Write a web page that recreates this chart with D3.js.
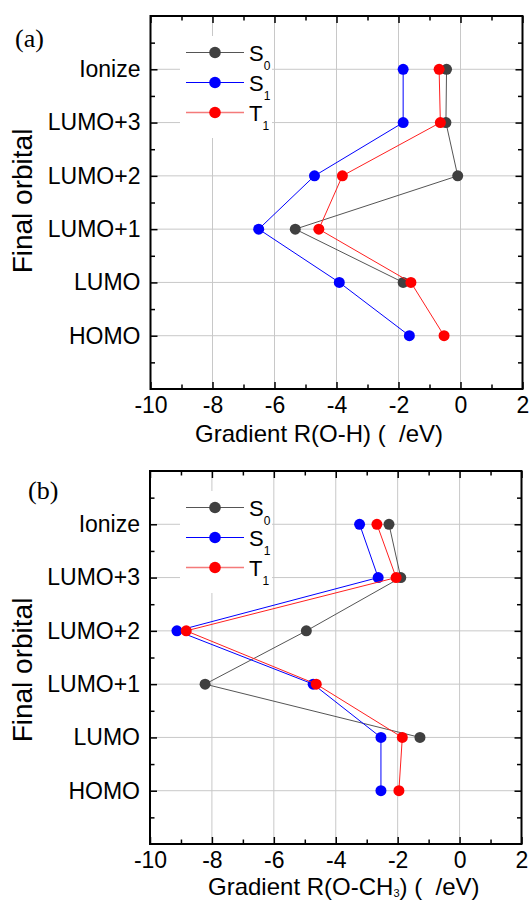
<!DOCTYPE html>
<html>
<head>
<meta charset="utf-8">
<script src="https://cdn.jsdelivr.net/npm/d3@7"></script>
<style>
  html, body { margin: 0; padding: 0; background: #fff; }
  svg { display: block; }
</style>
</head>
<body>
<script>
// ---------------- data ----------------
const categories = ["HOMO", "LUMO", "LUMO+1", "LUMO+2", "LUMO+3", "Ionize"];
const xTickValues = [-10, -8, -6, -4, -2, 0, 2];
const seriesNames = ["S0", "S1", "T1"];

// Panel (a): Gradient R(O-H)
const ohS0 = [null, -1.85, -5.33, -0.09, -0.47, -0.45];
const ohS1 = [-1.65, -3.91, -6.51, -4.71, -1.85, -1.85];
const ohT1 = [-0.53, -1.60, -4.57, -3.81, -0.65, -0.69];

// Panel (b): Gradient R(O-CH3)
const ochS0 = [null, -1.28, -8.22, -4.95, -1.90, -2.28];
const ochS1 = [-2.54, -2.54, -4.73, -9.13, -2.63, -3.23];
const ochT1 = [-1.96, -1.85, -4.63, -8.83, -2.05, -2.67];

// ---------------- styles ----------------
const colors = { S0: "#404040", S1: "#0000ff", T1: "#ff0000" };
const lineColors = { S0: "#555555", S1: "#0000ff", T1: "#ff2020" };
const legendLineColors = { S0: "#555555", S1: "#0000ff", T1: "#f47a7a" };
const SANS = "'Liberation Sans', Arial, sans-serif";
const SERIF = "'Liberation Serif', 'Times New Roman', serif";

const W = 530, H = 900;
const svg = d3.select("body").append("svg").attr("width", W).attr("height", H)
  .style("background", "#fff");

const panels = [
  { tag: "(a)", tagX: 15, tagY: 47, top: 16, bottom: 389, left: 150.5, right: 522.5,
    titleX: 195, titleY: 442, titleMain: "Gradient R(O-H) (\u00A0\u00A0/eV)", sub: null,
    series: { S0: ohS0, S1: ohS1, T1: ohT1 }, yLabelCenter: 201 },
  { tag: "(b)", tagX: 28, tagY: 499, top: 471, bottom: 844, left: 150, right: 521.5,
    titleX: 208, titleY: 895, titleMain: "Gradient R(O-CH", sub: "3", titleRest: ") (\u00A0\u00A0/eV)",
    series: { S0: ochS0, S1: ochS1, T1: ochT1 }, yLabelCenter: 670 }
];

panels.forEach(p => {
  const g = svg.append("g");
  const x = d3.scaleLinear().domain([-10, 2]).range([p.left, p.right]);
  const y = d3.scaleLinear().domain([0, 7]).range([p.bottom, p.top]);
  const catPos = (i) => y(i + 1);

  // grid lines
  g.append("g").selectAll("line").data(xTickValues.slice(1, -1)).join("line")
    .attr("x1", d => x(d)).attr("x2", d => x(d)).attr("y1", p.top).attr("y2", p.bottom)
    .attr("stroke", "#c8c8c8").attr("stroke-width", 1);
  g.append("g").selectAll("line").data(categories).join("line")
    .attr("x1", p.left).attr("x2", p.right).attr("y1", (d, i) => catPos(i)).attr("y2", (d, i) => catPos(i))
    .attr("stroke", "#c8c8c8").attr("stroke-width", 1);

  // legend background (covers grid)
  g.append("rect").attr("x", 180).attr("y", p.top + 20).attr("width", 92).attr("height", 102)
    .attr("fill", "#fff");

  // axes
  const minorX = d3.range(-9, 2, 2);
  const minorY = d3.range(0.5, 7, 1);
  const majorY = d3.range(1, 7);
  const styleAxis = sel => {
    sel.select(".domain").remove();
    sel.selectAll(".tick line").attr("stroke", "#000").attr("stroke-width", 1.5);
    sel.selectAll("text").attr("font-family", SANS).attr("font-size", 23).attr("fill", "#000");
  };
  g.append("g").attr("transform", `translate(0,${p.bottom})`)
    .call(d3.axisBottom(x).tickValues(xTickValues).tickSize(-7).tickPadding(7.5).tickFormat(d => d < 0 ? "-" + Math.abs(d) : d))
    .call(styleAxis);
  g.append("g").attr("transform", `translate(0,${p.bottom})`)
    .call(d3.axisBottom(x).tickValues(minorX).tickSize(-4.5).tickFormat(""))
    .call(styleAxis);
  g.append("g").attr("transform", `translate(0,${p.top})`)
    .call(d3.axisTop(x).tickValues(xTickValues).tickSize(-7).tickFormat(""))
    .call(styleAxis);
  g.append("g").attr("transform", `translate(0,${p.top})`)
    .call(d3.axisTop(x).tickValues(minorX).tickSize(-4.5).tickFormat(""))
    .call(styleAxis);
  g.append("g").attr("transform", `translate(${p.left},0)`)
    .call(d3.axisLeft(y).tickValues(majorY).tickSize(-7).tickPadding(10).tickFormat(d => categories[d - 1]))
    .call(styleAxis);
  g.append("g").attr("transform", `translate(${p.left},0)`)
    .call(d3.axisLeft(y).tickValues(minorY).tickSize(-4.5).tickFormat(""))
    .call(styleAxis);
  g.append("g").attr("transform", `translate(${p.right},0)`)
    .call(d3.axisRight(y).tickValues(majorY).tickSize(-7).tickFormat(""))
    .call(styleAxis);
  g.append("g").attr("transform", `translate(${p.right},0)`)
    .call(d3.axisRight(y).tickValues(minorY).tickSize(-4.5).tickFormat(""))
    .call(styleAxis);

  // frame
  g.append("rect").attr("x", p.left).attr("y", p.top)
    .attr("width", p.right - p.left).attr("height", p.bottom - p.top)
    .attr("fill", "none").attr("stroke", "#000").attr("stroke-width", 2);

  // series
  const line = d3.line().defined(d => d.v !== null).x(d => x(d.v)).y(d => catPos(d.i));
  seriesNames.forEach(name => {
    const pts = p.series[name].map((v, i) => ({ v, i }));
    g.append("path").datum(pts).attr("d", line).attr("fill", "none")
      .attr("stroke", lineColors[name]).attr("stroke-width", 1);
    g.append("g").selectAll("circle").data(pts.filter(d => d.v !== null)).join("circle")
      .attr("cx", d => x(d.v)).attr("cy", d => catPos(d.i)).attr("r", 5.5)
      .attr("fill", colors[name]);
  });

  // legend
  const subs = { S0: ["S", "0"], S1: ["S", "1"], T1: ["T", "1"] };
  seriesNames.forEach((name, k) => {
    const ly = p.top + 36.5 + k * 30;
    g.append("line").attr("x1", 186).attr("x2", 244).attr("y1", ly).attr("y2", ly)
      .attr("stroke", legendLineColors[name]).attr("stroke-width", name === "T1" ? 1.6 : 1.2);
    g.append("circle").attr("cx", 215).attr("cy", ly).attr("r", 5.8).attr("fill", colors[name]);
    const t = g.append("text").attr("x", 249).attr("y", ly + 8)
      .attr("font-family", SANS).attr("font-size", 22).attr("fill", "#000");
    t.append("tspan").text(subs[name][0]);
    t.append("tspan").attr("dy", 9).attr("font-size", 12).text(subs[name][1]);
  });

  // y axis title
  g.append("text").attr("transform", `translate(32,${p.yLabelCenter}) rotate(-90)`)
    .attr("text-anchor", "middle").attr("font-family", SANS).attr("font-size", 28)
    .attr("fill", "#000").text("Final orbital");

  // x axis title
  const tt = g.append("text").attr("x", p.titleX).attr("y", p.titleY)
    .attr("font-family", SANS).attr("font-size", 24).attr("fill", "#000");
  tt.append("tspan").text(p.titleMain);
  if (p.sub) {
    tt.append("tspan").attr("dy", 2).attr("font-size", 11).text(p.sub);
    tt.append("tspan").attr("dy", -2).text(p.titleRest);
  }

  // panel tag
  g.append("text").attr("x", p.tagX).attr("y", p.tagY)
    .attr("font-family", SERIF).attr("font-size", 26).attr("fill", "#000").text(p.tag);
});
</script>
</body>
</html>
